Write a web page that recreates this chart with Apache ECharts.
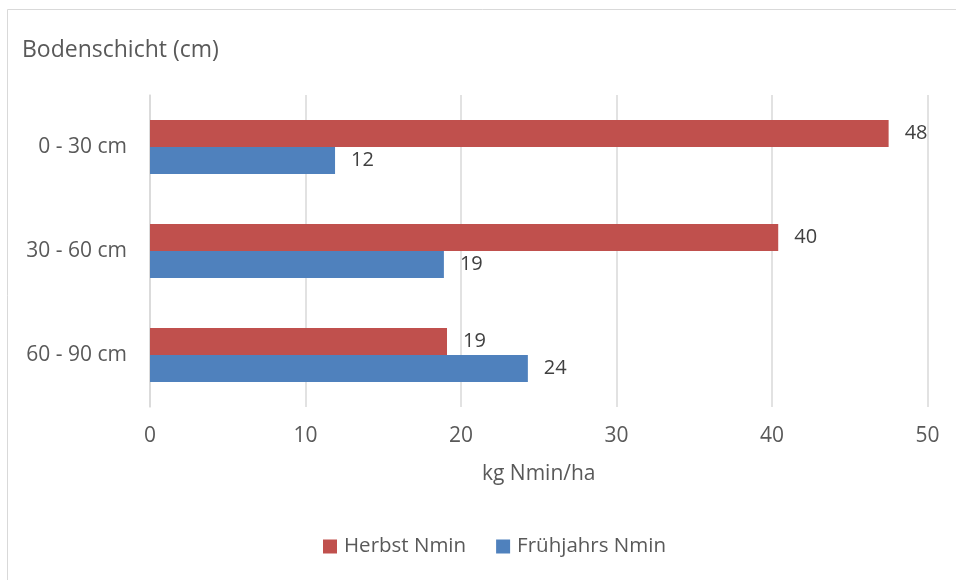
<!DOCTYPE html>
<html>
<head>
<meta charset="utf-8">
<script src="https://cdn.jsdelivr.net/npm/echarts@6/dist/echarts.min.js"></script>
<style>
  html, body { margin: 0; padding: 0; background: #fff; }
  #chart { width: 956px; height: 580px; }
</style>
</head>
<body>
<div id="chart"></div>
<script>
// Nmin-Gehalte je Bodenschicht
const categories = ['0 - 30 cm', '30 - 60 cm', '60 - 90 cm'];
const herbstNmin = [47.5, 40.4, 19.1];
const fruehjahrsNmin = [11.9, 18.9, 24.3];
const xTicks = [0, 10, 20, 30, 40, 50];

const FONT = '"Open Sans", sans-serif';
const chart = echarts.init(document.getElementById('chart'));

const labelStyle = {
  show: true,
  position: 'right',
  distance: 16,
  color: '#404040',
  fontFamily: FONT,
  fontSize: 20,
  formatter: p => String(Math.round(p.value))
};

chart.setOption({
  animation: false,
  backgroundColor: '#fff',
  graphic: [{
    type: 'rect',
    shape: { x: 7.5, y: 9.5, width: 960, height: 580 },
    style: { fill: 'none', stroke: '#d9d9d9', lineWidth: 1 },
    silent: true
  }],
  title: {
    text: 'Bodenschicht (cm)',
    left: 17,
    top: 34,
    textStyle: { color: '#595959', fontFamily: FONT, fontSize: 23, fontWeight: 'normal' }
  },
  grid: { left: 150, right: 28.5, top: 95, bottom: 173, containLabel: false },
  legend: {
    data: ['Herbst Nmin', 'Frühjahrs Nmin'],
    bottom: 18,
    left: 318,
    itemWidth: 14,
    itemHeight: 14,
    itemGap: 30,
    icon: 'rect',
    textStyle: { color: '#595959', fontFamily: FONT, fontSize: 20.5, padding: [0, 0, 0, 2] }
  },
  xAxis: {
    type: 'value',
    min: xTicks[0],
    max: xTicks[xTicks.length - 1],
    interval: 10,
    name: 'kg Nmin/ha',
    nameLocation: 'middle',
    nameGap: 57,
    nameTextStyle: { color: '#595959', fontFamily: FONT, fontSize: 21 },
    axisLine: { show: false },
    axisTick: { show: false },
    axisLabel: { color: '#595959', fontFamily: FONT, fontSize: 21, margin: 19 },
    splitLine: { show: true, lineStyle: { color: '#d9d9d9', width: 1.5 } }
  },
  yAxis: {
    type: 'category',
    data: categories,
    inverse: true,
    axisLine: { show: true, lineStyle: { color: '#d9d9d9', width: 1.5 } },
    axisTick: { show: false },
    axisLabel: { color: '#595959', fontFamily: FONT, fontSize: 21, margin: 23 }
  },
  series: [
    {
      name: 'Herbst Nmin',
      type: 'bar',
      data: herbstNmin,
      barWidth: 27,
      barGap: '0%',
      itemStyle: { color: '#C0504D' },
      label: labelStyle
    },
    {
      name: 'Frühjahrs Nmin',
      type: 'bar',
      data: fruehjahrsNmin,
      barWidth: 27,
      barGap: '0%',
      itemStyle: { color: '#4F81BD' },
      label: labelStyle
    }
  ]
});
</script>
</body>
</html>
